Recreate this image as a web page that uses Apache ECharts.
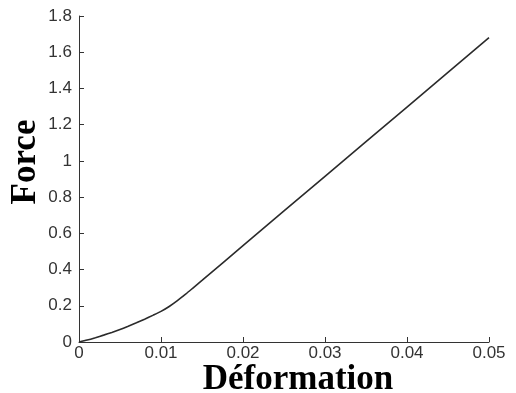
<!DOCTYPE html>
<html>
<head>
<meta charset="utf-8">
<script src="https://cdn.jsdelivr.net/npm/echarts@6/dist/echarts.min.js"></script>
<style>
  html, body { margin: 0; padding: 0; background: #fff; }
  #chart { width: 516px; height: 393px; }
</style>
</head>
<body>
<div id="chart"></div>
<script>
// values
var deformation = [0, 0.001, 0.002, 0.003, 0.004, 0.005, 0.006, 0.007, 0.008, 0.009,
  0.010, 0.011, 0.012, 0.013, 0.014, 0.015, 0.02, 0.03, 0.04, 0.05]
var force = [0, 0.011, 0.024, 0.038, 0.053, 0.069, 0.087, 0.106, 0.126, 0.147,
  0.169, 0.196, 0.228, 0.264, 0.302, 0.340, 0.532, 0.915, 1.297, 1.68]
var xTicks = [0, 0.01, 0.02, 0.03, 0.04, 0.05]
var yTicks = [0, 0.2, 0.4, 0.6, 0.8, 1, 1.2, 1.4, 1.6, 1.8]

var points = deformation.map(function (d, i) { return [d, force[i]] })

var myChart = echarts.init(document.getElementById('chart'))
var axisColor = '#333'
var labelStyle = {
  color: '#333',
  fontFamily: 'Liberation Sans',
  fontSize: 17
}
var option = {
  animation: false,
  grid: {
    left: 79,
    right: 27,
    top: 16,
    bottom: 51,
    containLabel: false,
    outerBoundsMode: 'none'
  },
  xAxis: {
    type: 'value',
    min: xTicks[0],
    max: xTicks[xTicks.length - 1],
    interval: 0.01,
    name: 'Déformation',
    nameLocation: 'middle',
    nameMoveOverlap: false,
    nameGap: 20,
    nameTextStyle: {
      fontFamily: 'Liberation Serif',
      fontWeight: 'bold',
      fontSize: 35,
      color: '#000',
      padding: [0, 0, 0, 28]
    },
    axisLine: { show: true, lineStyle: { color: axisColor, width: 1 } },
    axisTick: { show: true, inside: true, length: 5, lineStyle: { color: axisColor } },
    axisLabel: Object.assign({ margin: 3 }, labelStyle),
    splitLine: { show: false }
  },
  yAxis: {
    type: 'value',
    min: yTicks[0],
    max: yTicks[yTicks.length - 1],
    interval: 0.2,
    name: 'Force',
    nameLocation: 'middle',
    nameMoveOverlap: false,
    nameGap: 36,
    nameTextStyle: {
      fontFamily: 'Liberation Serif',
      fontWeight: 'bold',
      fontSize: 35,
      color: '#000',
      padding: [0, 0, 0, 34]
    },
    axisLine: { show: true, lineStyle: { color: axisColor, width: 1 } },
    axisTick: { show: true, inside: true, length: 5, lineStyle: { color: axisColor } },
    axisLabel: Object.assign({ margin: 7 }, labelStyle),
    splitLine: { show: false }
  },
  series: [
    {
      type: 'line',
      data: points,
      symbol: 'none',
      smooth: 0.25,
      lineStyle: { color: '#2b2b2b', width: 1.6 }
    }
  ]
}
option && myChart.setOption(option)
window.addEventListener('resize', function () {
  myChart.resize()
})
</script>
</body>
</html>
